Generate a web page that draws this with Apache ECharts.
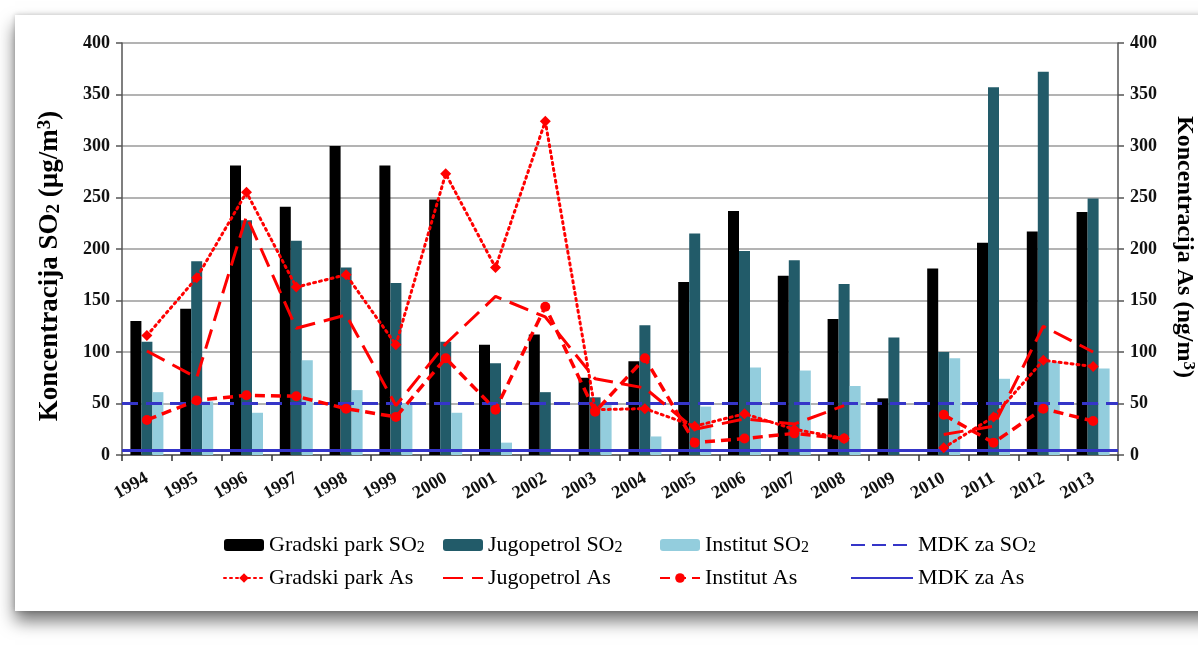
<!DOCTYPE html>
<html><head><meta charset="utf-8">
<script src="https://cdn.jsdelivr.net/npm/echarts@6/dist/echarts.min.js"></script>
<style>
html,body{margin:0;padding:0;width:1198px;height:652px;overflow:hidden;background:#fff;}
#card{position:absolute;left:15px;top:15px;width:1300px;height:596px;background:#fff;box-shadow:0 10px 16px rgba(0,0,0,0.55),0 0 5px rgba(0,0,0,0.2);}
#chart{position:absolute;left:0;top:0;width:1198px;height:652px;}
</style></head><body>
<div id="card"></div><div id="chart"></div>
<script>
// ---- data ----
const years = ['1994','1995','1996','1997','1998','1999','2000','2001','2002','2003','2004','2005','2006','2007','2008','2009','2010','2011','2012','2013'];
const gradskiSO2    = [130, 142, 281, 241, 300, 281, 248, 107, 117, 75, 91, 168, 237, 174, 132, 55, 181, 206, 217, 236];
const jugopetrolSO2 = [110, 188, 228, 208, 182, 167, 110, 89, 61, 56, 126, 215, 198, 189, 166, 114, 100, 357, 372, 249];
const institutSO2   = [61, 52, 41, 92, 63, 50, 41, 12, null, 50, 18, 47, 85, 82, 67, null, 94, 74, 90, 84];
const gradskiAs     = [116, 172, 255, 163, 175, 107, 273, 182, 324, 44, 45, 28, 40, 25, 16, null, 7, 37, 92, 86];
const jugopetrolAs  = [101, 75, 232, 123, 136, 48, 108, 154, 134, 74, 65, 25, 35, 30, 48, null, 20, 28, 125, 100];
const institutAs    = [34, 53, 58, 57, 45, 37, 94, 44, 144, 42, 94, 12, 16, 21, 16, null, 39, 12, 45, 33];
const mdkSO2 = 50;
const mdkAs = 5;
const yTicks = {min: 0, max: 400, interval: 50};

// ---- styles ----
const SERIF = '"Liberation Serif","Times New Roman",serif';
const RED = '#FF0000';
const BLUE = '#3535C8';

const chart = echarts.init(document.getElementById('chart'));

function yAxisCfg(pos) {
  return {
    type: 'value', position: pos, min: yTicks.min, max: yTicks.max, interval: yTicks.interval,
    axisLine: {show: true, lineStyle: {color: '#555', width: 1.5}},
    axisTick: {show: true, length: 6, lineStyle: {color: '#555', width: 1.5}},
    splitLine: {show: pos === 'left', lineStyle: {color: '#9a9a9a', width: 1.5}},
    axisLabel: {margin: 12, fontFamily: SERIF, fontWeight: 'bold', fontSize: 18, color: '#111'}
  };
}

const noSymbol = {opacity: 0};
function legendCol(names, left, w) {
  return {
    orient: 'vertical', left: left, top: 529,
    data: names.map(n => (n === 'Jugopetrol As' || n.indexOf('MDK') === 0) ? {name: n, itemStyle: noSymbol} : n),
    itemWidth: w, itemHeight: 12, itemGap: 11,
    formatter: n => n.replace('SO2', 'SO{sub|2}'),
    textStyle: {fontFamily: SERIF, fontSize: 22, lineHeight: 22, color: '#000', rich: {
      sub: {fontFamily: SERIF, fontSize: 16, lineHeight: 12, verticalAlign: 'bottom', color: '#000'}
    }}
  };
}

const option = {
  animation: false,
  grid: {left: 122, right: 80, top: 43, bottom: 197, containLabel: false},
  xAxis: {
    type: 'category', data: years, boundaryGap: true,
    axisLine: {lineStyle: {color: '#555', width: 1.5}},
    axisTick: {show: true, length: 6, lineStyle: {color: '#333', width: 1.5}},
    axisLabel: {interval: 0, rotate: 30, margin: 22, fontFamily: SERIF, fontWeight: 'bold', fontSize: 18, color: '#111'}
  },
  yAxis: [yAxisCfg('left'), yAxisCfg('right')],
  legend: [
    legendCol(['Gradski park SO2', 'Gradski park As'], 218, 40),
    legendCol(['Jugopetrol SO2', 'Jugopetrol As'], 437, 40),
    legendCol(['Institut SO2', 'Institut As'], 654, 40),
    legendCol(['MDK za SO2', 'MDK za As'], 845, 62)
  ],
  graphic: [
    {type: 'text', x: 50, y: 266, rotation: Math.PI / 2, z: 10,
      style: {text: 'Koncentracija SO{sub|2} (µg/m{sup|3})', fontFamily: SERIF, fontWeight: 'bold', fontSize: 27,
        lineHeight: 28, fill: '#000', align: 'center', verticalAlign: 'middle',
        rich: {
          sub: {fontFamily: SERIF, fontWeight: 'bold', fontSize: 19, lineHeight: 17, verticalAlign: 'bottom'},
          sup: {fontFamily: SERIF, fontWeight: 'bold', fontSize: 19, lineHeight: 17, verticalAlign: 'top'}
        }}},
    {type: 'text', x: 1184, y: 247, rotation: -Math.PI / 2, z: 10,
      style: {text: 'Koncentracija As (ng/m{sup|3})', fontFamily: SERIF, fontWeight: 'bold', fontSize: 24,
        lineHeight: 26, fill: '#000', align: 'center', verticalAlign: 'middle',
        rich: {
          sup: {fontFamily: SERIF, fontWeight: 'bold', fontSize: 17, lineHeight: 16, verticalAlign: 'top'}
        }}}
  ],
  series: [
    {name: 'Gradski park SO2', type: 'bar', data: gradskiSO2, barWidth: 11, barGap: '0%', itemStyle: {color: '#000000'}},
    {name: 'Jugopetrol SO2', type: 'bar', data: jugopetrolSO2, barWidth: 11, barGap: '0%', itemStyle: {color: '#225B69'}},
    {name: 'Institut SO2', type: 'bar', data: institutSO2, barWidth: 11, barGap: '0%', itemStyle: {color: '#93CDDD'}},
    {name: 'MDK za SO2', type: 'line', data: [], symbol: 'none', z: 4,
      lineStyle: {color: BLUE, width: 3, type: [14, 7]}, itemStyle: {color: BLUE},
      markLine: {silent: true, symbol: ['none', 'none'], label: {show: false},
        lineStyle: {color: BLUE, width: 3, type: [16, 8]}, data: [{yAxis: mdkSO2}]}},
    {name: 'MDK za As', type: 'line', yAxisIndex: 1, data: [], symbol: 'none', z: 4,
      lineStyle: {color: BLUE, width: 3, type: 'solid'}, itemStyle: {color: BLUE},
      markLine: {silent: true, symbol: ['none', 'none'], label: {show: false},
        lineStyle: {color: BLUE, width: 3, type: 'solid'}, data: [{yAxis: mdkAs}]}},
    {name: 'Gradski park As', type: 'line', yAxisIndex: 1, data: gradskiAs, z: 5,
      symbol: 'diamond', symbolSize: 11, itemStyle: {color: RED},
      lineStyle: {color: RED, width: 3, type: [2, 4], cap: 'round'}},
    {name: 'Jugopetrol As', type: 'line', yAxisIndex: 1, data: jugopetrolAs, z: 5,
      symbol: 'none', itemStyle: {color: RED},
      lineStyle: {color: RED, width: 3, type: [20, 9]}},
    {name: 'Institut As', type: 'line', yAxisIndex: 1, data: institutAs, z: 5,
      symbol: 'circle', symbolSize: 10, itemStyle: {color: RED},
      lineStyle: {color: RED, width: 3.5, type: [10, 6]}}
  ]
};
chart.setOption(option);
</script>
</body></html>
